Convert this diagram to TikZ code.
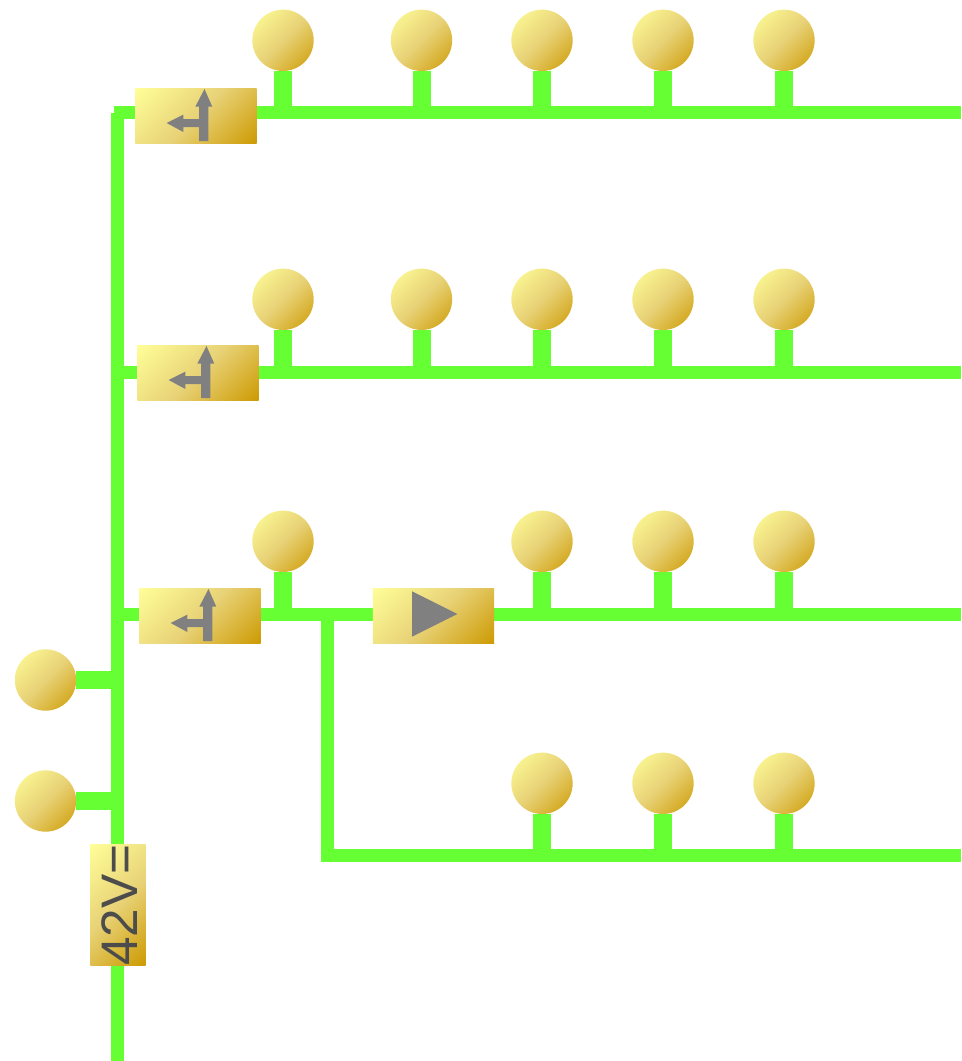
\documentclass[tikz,border=0pt]{standalone}
\usepackage{fontspec}
\usepackage{xcolor}
\setmainfont{Liberation Sans}
\usetikzlibrary{positioning}
\definecolor{goldlight}{HTML}{FFFF99}
\definecolor{goldmid}{HTML}{E8D277}
\definecolor{golddark}{HTML}{CC9900}
\definecolor{wiregreen}{HTML}{66FF33}
\definecolor{icongray}{HTML}{808080}
\pgfdeclareverticalshading{goldfade}{100bp}{color(0bp)=(golddark); color(14bp)=(golddark); color(50bp)=(goldmid); color(86bp)=(goldlight); color(100bp)=(goldlight)}
\tikzset{
    wire/.style = {draw=wiregreen, line width=9.75pt},
    wire_stub/.style = {draw=wiregreen, line width=13.5pt},
    gold/.style = {shading=goldfade, shading angle=45},
    lamp_node/.style = {gold, circle, inner sep=0pt, minimum size=46pt},
    box_node/.style = {gold, rectangle, inner sep=0pt, minimum width=91pt, minimum height=41.6pt},
    psu_node/.style = {gold, rectangle, inner sep=0pt, minimum width=41.6pt, minimum height=91pt, text=black!70, font=\fontsize{38.5pt}{38.5pt}\selectfont},
    icon/.style = {fill=icongray, draw=none}
}
\newcommand{\turnicon}[2]{
    \fill [icon, shift={(#1,#2)}] (64,53) -- (64,18.7) -- (60.3,18.7) -- (69.5,1) -- (77.3,18.7) -- (73.3,18.7) -- (73.3,53)
        -- (64,53) (64,31) -- (64,39) -- (48.3,39) -- (48.3,44) -- (31.7,35) -- (48.3,26.7) -- (48.3,31) -- cycle;
}
\begin{document}
\begin{tikzpicture}[x=0.75pt, y=-0.75pt]
    \useasboundingbox (0,0) rectangle (961,1061);

    % bus ends
    \coordinate (bus_top) at (117.5,113);
    \coordinate (bus_bottom) at (117.5,1061);
    \coordinate (end1) at (961,112.5);
    \coordinate (end2) at (961,372.5);
    \coordinate (end3) at (961,614.5);
    \coordinate (end4) at (961,855.5);
    \coordinate (start1) at (114,112.5);
    \coordinate (start2) at (117.5,372.5);
    \coordinate (start3) at (117.5,614.5);
    \coordinate (branch) at (327.5,614.5);
    \coordinate (corner) at (327.5,855.5);

    \draw [wire] (bus_top) -- (bus_bottom);
    \draw [wire] (start1) -- (end1);
    \draw [wire] (start2) -- (end2);
    \draw [wire] (start3) -- (end3);
    \draw [wire] (branch) -- ([yshift=-4.875pt]corner);
    \draw [wire] ([xshift=-4.875pt]corner) -- (end4);

    % switch boxes
    \node [box_node] (switch1) at (196,116) {};
    \node [box_node] (switch2) at (198,373) {};
    \node [box_node] (switch3) at (200,616) {};
    \node [box_node] (play) at (433.5,616) {};
    \node [psu_node] (psu) at (118,905) {\hspace{2pt}\rotatebox{90}{\makebox[85pt]{42V=}}};

    \turnicon{135}{88}
    \turnicon{137}{345}
    \turnicon{139}{588}
    \fill [icon] (412,591.3) -- (457.3,614) -- (412,636.7) -- cycle;

    % lamps
    \foreach \row/\y/\bus in {1/40.3/end1, 2/299.3/end2}
        \foreach \col/\x in {1/283, 2/421.5, 3/542, 4/663, 5/784} {
            \node [lamp_node] (lamp\row\col) at (\x,\y) {};
            \draw [wire_stub] (lamp\row\col.south) -- (lamp\row\col.south |- \bus);
        }
    \foreach \col/\x in {1/283, 3/542, 4/663, 5/784} {
        \node [lamp_node] (lamp3\col) at (\x,541.3) {};
        \draw [wire_stub] (lamp3\col.south) -- (lamp3\col.south |- end3);
    }
    \foreach \col/\x in {3/542, 4/663, 5/784} {
        \node [lamp_node] (lamp4\col) at (\x,783.3) {};
        \draw [wire_stub] (lamp4\col.south) -- (lamp4\col.south |- end4);
    }
    \node [lamp_node] (lamp_a) at (45.5,680) {};
    \node [lamp_node] (lamp_b) at (45.5,801) {};
    \draw [wire_stub] (lamp_a.east) -- (lamp_a.east -| bus_top);
    \draw [wire_stub] (lamp_b.east) -- (lamp_b.east -| bus_top);
\end{tikzpicture}
\end{document}
